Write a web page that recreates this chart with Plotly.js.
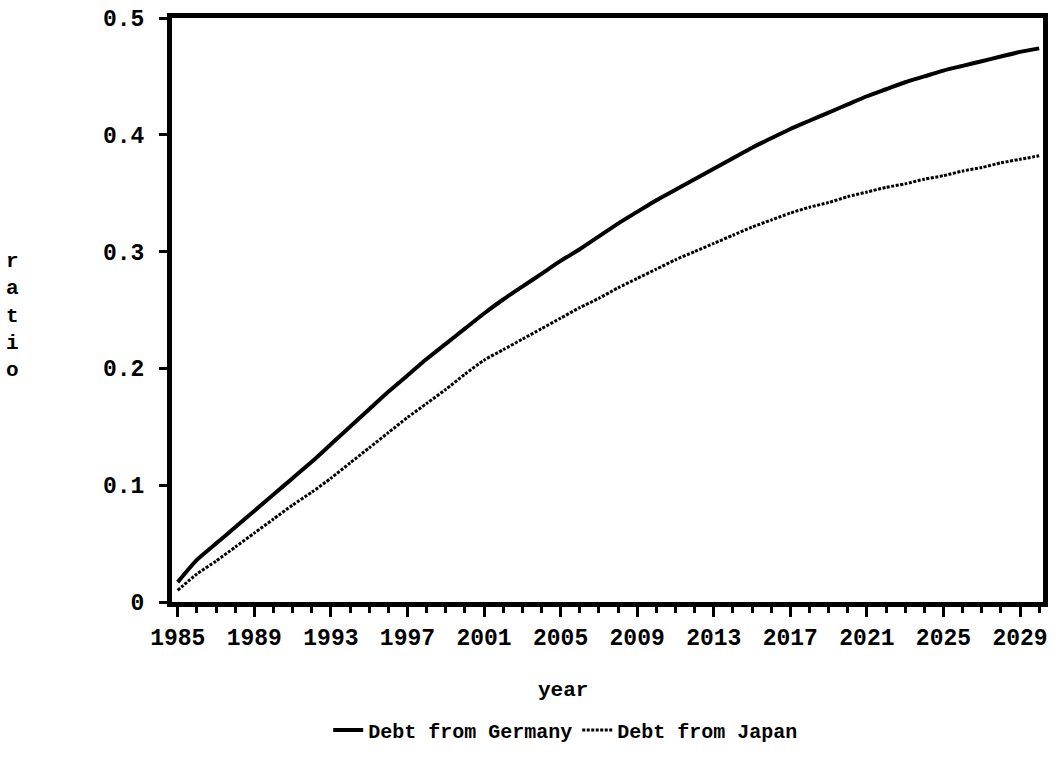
<!DOCTYPE html>
<html>
<head>
<meta charset="utf-8">
<script src="https://cdn.plot.ly/plotly-3.0.1.min.js"></script>
<style>
  html, body { margin: 0; padding: 0; background: #ffffff; }
  #chart { width: 1059px; height: 762px; }
</style>
</head>
<body>
<div id="chart"></div>
<script>
// Years (x axis)
const years = [
  1985, 1986, 1987, 1988, 1989, 1990, 1991, 1992, 1993, 1994,
  1995, 1996, 1997, 1998, 1999, 2000, 2001, 2002, 2003, 2004,
  2005, 2006, 2007, 2008, 2009, 2010, 2011, 2012, 2013, 2014,
  2015, 2016, 2017, 2018, 2019, 2020, 2021, 2022, 2023, 2024,
  2025, 2026, 2027, 2028, 2029, 2030
];

// Debt from Germany (ratio)
const debtGermany = [
  0.017, 0.036, 0.050, 0.064, 0.078, 0.092, 0.106, 0.120, 0.135, 0.150,
  0.165, 0.180, 0.194, 0.208, 0.221, 0.234, 0.247, 0.259, 0.270, 0.281,
  0.292, 0.302, 0.313, 0.324, 0.334, 0.344, 0.353, 0.362, 0.371, 0.380,
  0.389, 0.397, 0.405, 0.412, 0.419, 0.426, 0.433, 0.439, 0.445, 0.450,
  0.455, 0.459, 0.463, 0.467, 0.471, 0.474
];

// Debt from Japan (ratio)
const debtJapan = [
  0.010, 0.024, 0.035, 0.047, 0.059, 0.071, 0.083, 0.094, 0.106, 0.119,
  0.132, 0.145, 0.158, 0.170, 0.182, 0.195, 0.207, 0.216, 0.225, 0.234,
  0.243, 0.252, 0.260, 0.269, 0.277, 0.285, 0.293, 0.300, 0.307, 0.314,
  0.321, 0.327, 0.333, 0.338, 0.342, 0.347, 0.351, 0.355, 0.358, 0.362,
  0.365, 0.369, 0.372, 0.376, 0.379, 0.382
];

const seriesNames = ['Debt from Germany', 'Debt from Japan'];
const xTitle = 'year';
const yTitleLetters = ['r', 'a', 't', 'i', 'o'];

const FONT = 'Liberation Mono, DejaVu Sans Mono, monospace';

const traces = [
  {
    x: years, y: debtGermany, name: seriesNames[0],
    type: 'scatter', mode: 'lines',
    line: { color: '#000000', width: 4, dash: 'solid', shape: 'spline', smoothing: 0.6 }
  },
  {
    x: years, y: debtJapan, name: seriesNames[1],
    type: 'scatter', mode: 'lines',
    line: { color: '#000000', width: 3, dash: '3px,1.5px', shape: 'spline', smoothing: 0.6 }
  }
];

const layout = {
  width: 1059, height: 762,
  paper_bgcolor: '#ffffff', plot_bgcolor: '#ffffff',
  margin: { l: 172, r: 16, t: 18, b: 150 },
  font: { family: FONT, color: '#000000', size: 22, weight: 'bold' },
  showlegend: true,
  legend: {
    orientation: 'h', x: 0.452, xanchor: 'center', y: -0.219, yanchor: 'middle',
    font: { family: FONT, size: 20, color: '#000000', weight: 'bold' },
    itemwidth: 30, tracegroupgap: 0, bgcolor: 'rgba(0,0,0,0)'
  },
  xaxis: {
    range: [1984.7, 2030.2],
    tick0: 1985, dtick: 4,
    ticks: 'outside', ticklen: 10, tickwidth: 3, tickcolor: '#000000',
    minor: { dtick: 1, tick0: 1985, ticks: 'outside', ticklen: 6, tickwidth: 3, tickcolor: '#000000', showgrid: false },
    showline: true, linewidth: 5, linecolor: '#000000', mirror: true,
    showgrid: false, zeroline: false,
    tickfont: { family: FONT, size: 23, color: '#000000', weight: 'bold' }
  },
  yaxis: {
    range: [0, 0.5],
    tick0: 0, dtick: 0.1,
    ticks: 'outside', ticklen: 8, tickwidth: 3, tickcolor: '#000000',
    ticklabelstandoff: 10,
    showline: true, linewidth: 5, linecolor: '#000000', mirror: true,
    showgrid: false, zeroline: false,
    tickfont: { family: FONT, size: 23, color: '#000000', weight: 'bold' }
  },
  annotations: [
    {
      text: xTitle, xref: 'paper', yref: 'paper', x: 0.449, y: -0.152,
      xanchor: 'center', yanchor: 'middle', showarrow: false,
      font: { family: FONT, size: 21, color: '#000000', weight: 'bold' }
    },
    {
      text: yTitleLetters.join('<br>'), xref: 'paper', yref: 'paper', x: -0.183, y: 0.49,
      xanchor: 'center', yanchor: 'middle', showarrow: false,
      font: { family: FONT, size: 21, color: '#000000', weight: 'bold' }
    }
  ]
};

Plotly.newPlot('chart', traces, layout, { displayModeBar: false, staticPlot: true });
</script>
</body>
</html>
